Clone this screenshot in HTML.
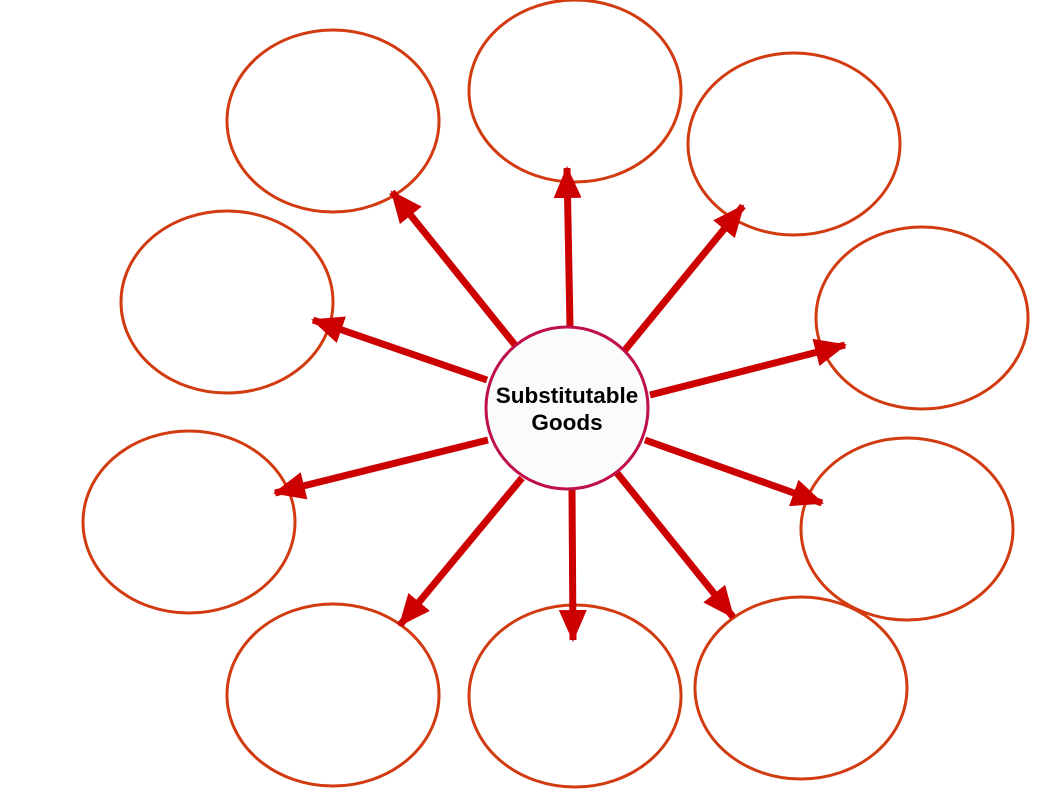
<!DOCTYPE html>
<html><head><style>html,body{margin:0;padding:0;background:#fff;}</style></head>
<body>
<svg width="1058" height="794" viewBox="0 0 1058 794" xmlns="http://www.w3.org/2000/svg">
<defs>
<marker id="a" markerUnits="userSpaceOnUse" markerWidth="32" markerHeight="28" refX="30" refY="14" orient="auto">
<path d="M0,0 L32,14 L0,28 Z" fill="#cc0000"/>
</marker>
</defs>
<g fill="none" stroke="#d23a10" stroke-width="3">
<ellipse cx="333" cy="121" rx="106" ry="91"/>
<ellipse cx="575" cy="91" rx="106" ry="91"/>
<ellipse cx="794" cy="144" rx="106" ry="91"/>
<ellipse cx="227" cy="302" rx="106" ry="91"/>
<ellipse cx="922" cy="318" rx="106" ry="91"/>
<ellipse cx="189" cy="522" rx="106" ry="91"/>
<ellipse cx="907" cy="529" rx="106" ry="91"/>
<ellipse cx="333" cy="695" rx="106" ry="91"/>
<ellipse cx="575" cy="696" rx="106" ry="91"/>
<ellipse cx="801" cy="688" rx="106" ry="91"/>
</g>
<g stroke="#cc0000" stroke-width="7" marker-end="url(#a)">
<line x1="515" y1="345" x2="392" y2="192"/>
<line x1="570" y1="327" x2="567" y2="168"/>
<line x1="625" y1="350" x2="743" y2="206"/>
<line x1="487" y1="380" x2="313" y2="320"/>
<line x1="650" y1="395" x2="845" y2="345"/>
<line x1="488" y1="440" x2="275" y2="493"/>
<line x1="645" y1="440" x2="822" y2="503"/>
<line x1="522" y1="478" x2="400" y2="625"/>
<line x1="572" y1="490" x2="573" y2="640"/>
<line x1="617" y1="473" x2="733" y2="617"/>
</g>
<circle cx="567" cy="408" r="81" fill="#fafcfa" stroke="#c0104a" stroke-width="3"/>
<text x="567" y="403" text-anchor="middle" font-family="Liberation Sans, sans-serif" font-weight="bold" font-size="22.5" fill="#000">Substitutable</text>
<text x="567" y="430" text-anchor="middle" font-family="Liberation Sans, sans-serif" font-weight="bold" font-size="22.5" fill="#000">Goods</text>
</svg>
</body></html>
